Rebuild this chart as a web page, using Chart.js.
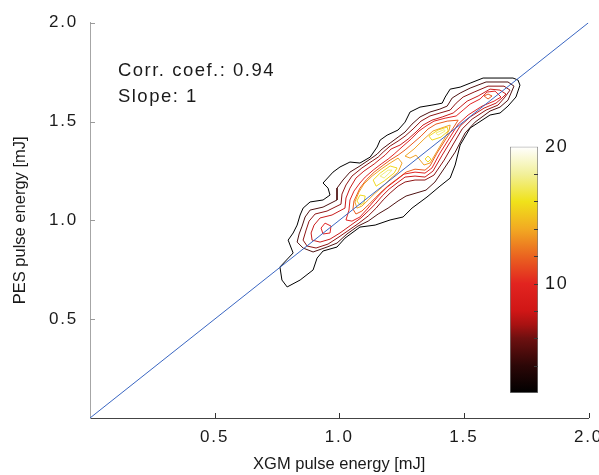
<!DOCTYPE html>
<html lang="en">
  <head>
    <meta charset="UTF-8" />
    <title>PES vs XGM pulse energy</title>
    <style>
      body { margin: 0; background: #fff; }
      #wrap { position: relative; width: 599px; height: 475px; }
      #main { position: absolute; left: 0; top: 0; width: 599px; height: 475px; }
      #cbar { position: absolute; left: 500px; top: 130px; width: 99px; height: 275px; }
    </style>
  </head>
  <body>
    <div id="wrap">
      <canvas id="main" width="599" height="475"></canvas>
      <canvas id="cbar" width="99" height="275"></canvas>
    </div>

    <script src="https://cdn.jsdelivr.net/npm/chart.js"></script>

    <script>
      // axis ticks
      const xTicks = [0.5, 1.0, 1.5, 2.0];
      const yTicks = [0.5, 1.0, 1.5, 2.0];
      const corrCoef = 0.94;
      const slope = 1;

      // colour bar
      const cbarMin = 2;
      const cbarMax = 20;
      const cbarTicks = [4, 6, 8, 10, 12, 14, 16, 18];
      const cbarLabels = [10, 20];

      // contour levels, each one a list of closed rings [XGM, PES] in mJ
      const levels = [2, 4, 6, 8, 10, 12, 14, 16, 18];

      const level2 = [
        [[1.725,1.684],[1.717,1.710],[1.697,1.720],[1.577,1.720],[1.525,1.694],[1.485,1.674],[1.445,1.664],[1.425,1.624],[1.413,1.593],[1.372,1.583],[1.324,1.573],[1.284,1.548],[1.264,1.497],[1.236,1.457],[1.192,1.431],[1.164,1.406],[1.152,1.371],[1.124,1.320],[1.083,1.290],[1.043,1.295],[1.003,1.270],[0.975,1.244],[0.935,1.189],[0.955,1.163],[0.963,1.128],[0.935,1.103],[0.883,1.093],[0.855,1.062],[0.843,1.027],[0.831,0.976],[0.815,0.936],[0.795,0.900],[0.815,0.835],[0.762,0.764],[0.770,0.698],[0.791,0.663],[0.843,0.698],[0.895,0.749],[0.911,0.809],[0.935,0.845],[0.991,0.865],[1.023,0.910],[1.083,0.966],[1.144,0.976],[1.204,1.002],[1.256,1.017],[1.292,1.062],[1.352,1.118],[1.404,1.173],[1.445,1.214],[1.465,1.280],[1.485,1.381],[1.525,1.467],[1.605,1.533],[1.645,1.543],[1.677,1.578],[1.709,1.624]]
      ];
      const level4 = [
        [[1.701,1.679],[1.677,1.700],[1.589,1.700],[1.525,1.669],[1.485,1.644],[1.453,1.619],[1.433,1.578],[1.404,1.563],[1.364,1.548],[1.324,1.523],[1.292,1.487],[1.264,1.447],[1.236,1.421],[1.204,1.391],[1.172,1.361],[1.152,1.335],[1.124,1.310],[1.083,1.275],[1.043,1.244],[1.015,1.204],[0.991,1.163],[0.991,1.103],[0.935,1.067],[0.883,1.052],[0.863,1.017],[0.851,0.971],[0.839,0.931],[0.831,0.890],[0.855,0.860],[0.895,0.840],[0.951,0.865],[0.991,0.885],[1.031,0.931],[1.075,0.971],[1.116,0.996],[1.156,1.032],[1.196,1.062],[1.236,1.098],[1.268,1.123],[1.308,1.138],[1.348,1.153],[1.384,1.194],[1.425,1.270],[1.465,1.345],[1.505,1.442],[1.545,1.497],[1.605,1.553],[1.645,1.573],[1.677,1.608]]
      ];
      const level6 = [
        [[1.685,1.659],[1.661,1.679],[1.597,1.679],[1.541,1.649],[1.497,1.624],[1.469,1.593],[1.445,1.558],[1.404,1.543],[1.364,1.528],[1.328,1.502],[1.296,1.462],[1.264,1.426],[1.236,1.401],[1.204,1.376],[1.176,1.345],[1.156,1.320],[1.132,1.300],[1.091,1.265],[1.051,1.224],[1.027,1.179],[1.011,1.133],[1.007,1.082],[0.951,1.047],[0.903,1.032],[0.879,0.996],[0.867,0.951],[0.855,0.900],[0.871,0.870],[0.907,0.860],[0.955,0.880],[0.999,0.916],[1.039,0.951],[1.079,0.986],[1.116,1.022],[1.148,1.062],[1.176,1.103],[1.204,1.138],[1.236,1.173],[1.264,1.194],[1.304,1.204],[1.344,1.204],[1.380,1.229],[1.421,1.305],[1.453,1.376],[1.493,1.462],[1.533,1.512],[1.589,1.558],[1.637,1.583],[1.665,1.624]]
      ];
      const level8 = [
        [[1.669,1.639],[1.645,1.659],[1.605,1.664],[1.557,1.629],[1.513,1.603],[1.485,1.573],[1.457,1.543],[1.413,1.523],[1.372,1.507],[1.336,1.482],[1.308,1.447],[1.276,1.411],[1.244,1.381],[1.208,1.361],[1.184,1.330],[1.164,1.310],[1.140,1.285],[1.099,1.249],[1.067,1.214],[1.043,1.163],[1.027,1.113],[1.023,1.062],[0.971,1.027],[0.923,1.012],[0.899,0.976],[0.887,0.936],[0.891,0.900],[0.923,0.890],[0.963,0.905],[1.003,0.936],[1.047,0.976],[1.087,1.012],[1.116,1.047],[1.144,1.082],[1.172,1.123],[1.200,1.158],[1.232,1.189],[1.264,1.219],[1.304,1.224],[1.344,1.219],[1.376,1.249],[1.413,1.330],[1.445,1.396],[1.485,1.477],[1.525,1.523],[1.581,1.568],[1.629,1.593],[1.653,1.619]]
      ];
      const level10 = [
        [[0.927,0.961],[0.943,0.986],[0.967,0.971],[0.963,0.936],[0.935,0.931]],
        [[1.649,1.624],[1.625,1.654],[1.593,1.649],[1.565,1.614],[1.525,1.588],[1.497,1.558],[1.469,1.528],[1.425,1.517],[1.380,1.502],[1.348,1.477],[1.320,1.452],[1.288,1.411],[1.256,1.376],[1.220,1.335],[1.196,1.310],[1.168,1.285],[1.136,1.254],[1.104,1.219],[1.083,1.189],[1.059,1.148],[1.043,1.103],[1.039,1.052],[1.027,1.002],[1.051,0.996],[1.083,1.017],[1.112,1.057],[1.136,1.093],[1.164,1.133],[1.192,1.168],[1.224,1.199],[1.260,1.234],[1.304,1.244],[1.344,1.239],[1.372,1.265],[1.404,1.340],[1.437,1.406],[1.477,1.487],[1.517,1.533],[1.573,1.578],[1.621,1.603]]
      ];
      const level12 = [
        [[1.581,1.629],[1.597,1.639],[1.613,1.629],[1.597,1.614]],
        [[1.477,1.507],[1.433,1.502],[1.388,1.487],[1.356,1.462],[1.328,1.426],[1.296,1.391],[1.264,1.356],[1.236,1.330],[1.204,1.305],[1.172,1.275],[1.140,1.244],[1.108,1.204],[1.083,1.163],[1.059,1.098],[1.055,1.057],[1.067,1.032],[1.091,1.047],[1.120,1.082],[1.144,1.113],[1.172,1.148],[1.200,1.179],[1.232,1.209],[1.268,1.244],[1.304,1.259],[1.344,1.254],[1.364,1.275],[1.392,1.340],[1.425,1.406],[1.457,1.467]]
      ];
      const level14 = [
        [[1.063,1.093],[1.079,1.143],[1.099,1.184],[1.132,1.224],[1.168,1.259],[1.204,1.290],[1.236,1.315],[1.252,1.290],[1.236,1.244],[1.204,1.209],[1.172,1.168],[1.140,1.133],[1.116,1.103],[1.091,1.072],[1.071,1.062]],
        [[1.264,1.325],[1.300,1.361],[1.340,1.411],[1.376,1.452],[1.421,1.472],[1.445,1.482],[1.441,1.457],[1.421,1.411],[1.400,1.366],[1.376,1.315],[1.364,1.290],[1.340,1.280],[1.324,1.305],[1.308,1.330],[1.284,1.315]]
      ];
      const level16 = [
        [[1.071,1.098],[1.083,1.128],[1.104,1.123],[1.099,1.088],[1.083,1.077]],
        [[1.136,1.204],[1.164,1.239],[1.204,1.275],[1.232,1.265],[1.220,1.239],[1.180,1.199],[1.148,1.173]],
        [[1.360,1.426],[1.396,1.457],[1.433,1.472],[1.437,1.452],[1.408,1.421],[1.372,1.406]],
        [[1.344,1.310],[1.356,1.325],[1.368,1.310],[1.356,1.295]]
      ];
      const level18 = [
        [[1.164,1.224],[1.196,1.254],[1.212,1.254],[1.180,1.214]],
        [[1.388,1.442],[1.421,1.459],[1.425,1.452],[1.396,1.431]]
      ];

      const contours = [level2, level4, level6, level8, level10, level12, level14, level16, level18];

      // colour map of the bar (value -> colour)
      const cmap = [
        [2, "#000000"], [4, "#2c0707"], [6, "#6e1010"], [7, "#a81212"],
        [8, "#d01616"], [10, "#e22420"], [12, "#ea6420"], [14, "#f2aa22"],
        [16, "#f0e21a"], [18, "#f2f09a"], [20, "#ffffff"]
      ];
      const lineColors = ["#000000", "#4e1212", "#8e1414", "#c81b1b", "#e02424", "#e85a1e", "#f0a226", "#efd820", "#f0ec7a"];

      const FONT = "'Liberation Sans', Arial, Helvetica, sans-serif";
      const TEXT = "#1a1a1a";

      const spacing = {
        id: "spacing",
        beforeDraw(chart) {
          chart.ctx.letterSpacing = "1.8px";
        },
      };

      const inwardTicks = {
        id: "inwardTicks",
        afterDraw(chart, args, opts) {
          const { ctx, chartArea: a } = chart;
          ctx.save();
          ctx.lineWidth = 1;
          for (const t of opts.list || []) {
            const s = chart.scales[t.scale];
            ctx.strokeStyle = t.color;
            ctx.beginPath();
            for (const v of t.values) {
              const p = Math.round(s.getPixelForValue(v)) + 0.5;
              if (s.isHorizontal()) {
                ctx.moveTo(p, a.bottom);
                ctx.lineTo(p, a.bottom - t.len);
              } else if (t.side === "right") {
                ctx.moveTo(a.right, p);
                ctx.lineTo(a.right - t.len, p);
              } else {
                ctx.moveTo(a.left, p);
                ctx.lineTo(a.left + t.len, p);
              }
            }
            ctx.stroke();
          }
          ctx.restore();
        },
      };

      // annotation and axis titles
      const texts = {
        id: "texts",
        afterDraw(chart, args, opts) {
          const { ctx, scales, chartArea: a } = chart;
          ctx.save();
          ctx.fillStyle = TEXT;
          ctx.textBaseline = "middle";
          ctx.font = "18.5px " + FONT;
          ctx.letterSpacing = "1.5px";
          ctx.textAlign = "left";
          opts.lines.forEach((l) => {
            ctx.fillText(l.text, scales.x.getPixelForValue(l.x), scales.y.getPixelForValue(l.y));
          });
          ctx.letterSpacing = "0px";
          ctx.font = "16.5px " + FONT;
          ctx.textAlign = "center";
          ctx.fillText(opts.xTitle, (a.left + a.right) / 2, chart.height - 11);
          ctx.translate(20, (a.top + a.bottom) / 2);
          ctx.rotate(-Math.PI / 2);
          ctx.fillText(opts.yTitle, 0, 0);
          ctx.restore();
        },
      };

      const datasets = [
        {
          data: [{ x: 0, y: 0 }, { x: 2, y: 2 * slope }],
          borderColor: "#3a66c2",
          borderWidth: 1,
          order: 0,
        },
      ];
      contours.forEach((rings, i) => {
        rings.forEach((ring) => {
          datasets.push({
            data: ring.concat([ring[0]]).map(([x, y]) => ({ x, y })),
            borderColor: lineColors[i],
            borderWidth: 1,
            order: 1,
          });
        });
      });
      datasets.forEach((d) => {
        d.showLine = true;
        d.pointRadius = 0;
        d.tension = 0;
        d.fill = false;
      });

      const tickFont = { family: FONT, size: 17 };

      new Chart(document.getElementById("main"), {
        type: "scatter",
        data: { datasets },
        options: {
          responsive: false,
          devicePixelRatio: 1,
          animation: false,
          events: [],
          layout: { padding: { top: 22.7, right: 10.5, left: 0, bottom: 0 } },
          plugins: {
            legend: { display: false },
            tooltip: { enabled: false },
            inwardTicks: {
              list: [
                { scale: "x", values: xTicks, len: 5, color: "#333333" },
                { scale: "y", values: yTicks, len: 5, color: "#9a9a9a" },
              ],
            },
            texts: {
              lines: [
                { text: "Corr. coef.: " + corrCoef.toFixed(2), x: 0.112, y: 1.755 },
                { text: "Slope: " + slope, x: 0.112, y: 1.624 },
              ],
              xTitle: "XGM pulse energy [mJ]",
              yTitle: "PES pulse energy [mJ]",
            },
          },
          scales: {
            x: {
              type: "linear",
              min: 0,
              max: 2,
              afterBuildTicks: (s) => { s.ticks = xTicks.map((v) => ({ value: v })); },
              afterFit: (s) => { s.height = 57; s.paddingLeft = 0; s.paddingRight = 0; },
              grid: { display: false, drawTicks: false },
              border: { display: true, color: "#444444", width: 1 },
              ticks: { font: tickFont, color: TEXT, padding: 9, maxRotation: 0, callback: (v) => v.toFixed(1) },
            },
            y: {
              type: "linear",
              min: 0,
              max: 2,
              afterBuildTicks: (s) => { s.ticks = yTicks.map((v) => ({ value: v })); },
              afterFit: (s) => { s.width = 90; s.paddingTop = 0; s.paddingBottom = 0; },
              grid: { display: false, drawTicks: false },
              border: { display: true, color: "#a6a6a6", width: 1 },
              ticks: { font: tickFont, color: TEXT, padding: 12, callback: (v) => v.toFixed(1) },
            },
          },
        },
        plugins: [spacing, inwardTicks, texts],
      });

      new Chart(document.getElementById("cbar"), {
        type: "bar",
        data: {
          labels: ["count"],
          datasets: [
            {
              data: [[cbarMin, cbarMax]],
              backgroundColor(c) {
                const chart = c.chart;
                if (!chart.chartArea) return "#000";
                const s = chart.scales.y;
                const g = chart.ctx.createLinearGradient(0, s.getPixelForValue(cbarMin), 0, s.getPixelForValue(cbarMax));
                cmap.forEach(([v, col]) => g.addColorStop((v - cbarMin) / (cbarMax - cbarMin), col));
                return g;
              },
              borderColor: "#7a7a7a",
              borderWidth: 1,
              borderSkipped: false,
              barPercentage: 1,
              categoryPercentage: 1,
            },
          ],
        },
        options: {
          responsive: false,
          devicePixelRatio: 1,
          animation: false,
          events: [],
          layout: { padding: { top: 16.7, left: 10, right: 0, bottom: 12 } },
          plugins: {
            legend: { display: false },
            tooltip: { enabled: false },
            inwardTicks: {
              list: [{ scale: "y", values: cbarTicks, len: 4, color: "#3a3a3a", side: "right" }],
            },
          },
          scales: {
            x: { display: false },
            y: {
              position: "right",
              min: cbarMin,
              max: cbarMax,
              afterBuildTicks: (s) => { s.ticks = cbarLabels.map((v) => ({ value: v })); },
              afterFit: (s) => { s.width = 61; s.paddingTop = 0; s.paddingBottom = 0; },
              grid: { display: false, drawTicks: false },
              border: { display: false },
              ticks: { font: { family: FONT, size: 18 }, color: TEXT, padding: 7 },
            },
          },
        },
        plugins: [spacing, inwardTicks],
      });
    </script>
  </body>
</html>
